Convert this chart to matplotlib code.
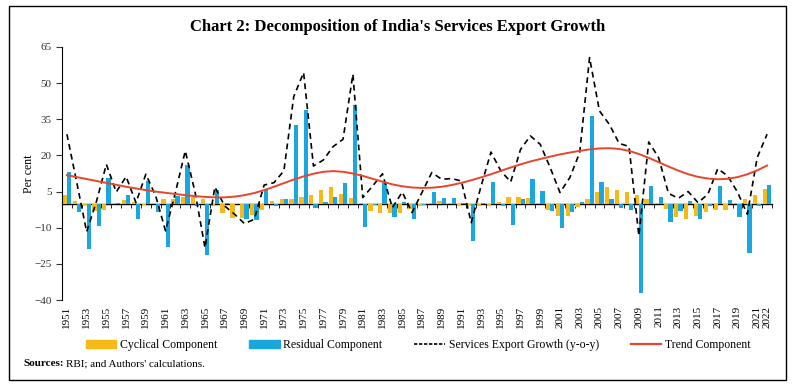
import numpy as np
import matplotlib.pyplot as plt
from matplotlib.patches import Rectangle, Patch
from matplotlib.lines import Line2D

plt.rcParams['font.family'] = ['Liberation Serif', 'DejaVu Serif']

# Data (per cent)
years = list(range(1951, 2023))

cyclical = [3.6, 1.0, -0.5, -3.0, -2.6, 0.2, 1.4, 0.7, -0.7, 0.2,
            1.8, 2.1, 2.9, 2.8, 1.8, -1.0, -4.0, -5.8, -6.1, -4.7,
            -2.6, 1.0, 2.1, 2.1, 2.9, 3.7, 5.5, 7.0, 4.1, 2.2,
            0.2, -3.0, -3.7, -3.7, -4.0, -2.4, -1.0, 0.4, 1.2, 0.2,
            -0.5, -0.5, -1.0, -1.0, 0.8, 2.6, 2.9, 2.2, 0.2, -2.6,
            -5.1, -5.1, -1.4, 2.1, 4.8, 6.9, 5.7, 5.0, 3.7, 1.8,
            0.3, -2.4, -5.5, -6.5, -5.1, -3.5, -2.8, -2.6, 0.2, 1.8,
            3.7, 5.9]

residual = [13.3, -3.5, -19.0, -9.3, 10.8, 0.2, 3.6, -6.5, 9.4, -3.5,
            -17.8, 3.2, 15.9, -1.0, -21.4, 5.7, 0.2, -0.3, -6.5, -6.9,
            5.7, -1.0, 1.8, 32.5, 38.9, -2.0, 0.7, 2.8, 8.7, 40.8,
            -9.5, -0.5, 8.7, -5.4, 0.7, -6.5, -0.5, 4.8, 2.5, 2.2,
            0.2, -15.5, 0.2, 9.1, -1.0, -8.9, 1.8, 10.1, 5.3, -3.0,
            -10.0, -3.5, 0.8, 36.5, 9.1, 1.8, -2.0, -2.6, -37.2, 7.2,
            2.9, -7.6, -3.0, 1.1, -6.2, -1.0, 7.3, 1.4, -5.4, -20.3,
            -1.0, 7.7]

growth = [28.8, 8.7, -11.7, 1.0, 16.3, 4.8, 11.2, 0.4, 12.2, 3.2,
          -11.3, 4.6, 21.9, 4.6, -18.3, 6.9, -1.0, -4.4, -8.3, -6.5,
          7.7, 8.7, 13.6, 44.4, 54.4, 15.6, 18.1, 23.7, 26.7, 53.7,
          2.5, 7.3, 12.4, -1.7, 4.8, -3.7, 4.6, 12.9, 10.1, 10.4,
          9.4, -7.9, 7.3, 21.4, 13.6, 9.0, 22.5, 28.1, 24.6, 15.0,
          4.6, 10.8, 21.2, 60.6, 38.5, 32.9, 25.0, 23.7, -13.4, 25.6,
          19.1, 4.3, 2.2, 5.0, 0.4, 3.9, 14.5, 11.5, 4.8, -4.4,
          19.1, 28.8]

trend = [11.8, 11.0, 10.2, 9.4, 8.6, 7.8, 7.0, 6.3, 5.6, 5.0,
         4.5, 4.0, 3.5, 3.1, 2.8, 2.6, 2.6, 2.9, 3.5, 4.4,
         5.6, 7.0, 8.5, 10.0, 11.3, 12.4, 13.2, 13.5, 13.2, 12.5,
         11.5, 10.3, 9.1, 8.0, 7.2, 6.7, 6.5, 6.6, 7.0, 7.7,
         8.6, 9.7, 10.9, 12.2, 13.6, 15.0, 16.3, 17.5, 18.5, 19.5,
         20.4, 21.2, 21.9, 22.5, 22.9, 23.0, 22.7, 21.9, 20.6, 19.0,
         17.2, 15.4, 13.7, 12.2, 11.1, 10.4, 10.1, 10.3, 11.0, 12.2,
         13.8, 15.8]

yticks = [-40, -25, -10, 5, 20, 35, 50, 65]

c_cyc = '#F7B918'
c_res = '#1AA7DD'
c_trend = '#E8452C'

fig = plt.figure(figsize=(7.96, 3.92), dpi=100)
ax = fig.add_axes([62/796, 1 - 300/392, 710/796, 253/392])

x = np.arange(len(years))
w = 0.43
ax.bar(x - w/2, cyclical, width=w, color=c_cyc, zorder=2)
ax.bar(x + w/2, residual, width=w, color=c_res, zorder=2)
ax.plot(x, growth, color='black', lw=1.2, ls=(0, (3.5, 2.5)), zorder=3)
ax.plot(x, trend, color=c_trend, lw=1.4, zorder=4)

ax.set_xlim(-0.5, len(years) - 0.5)
ax.set_ylim(-40, 65)
ax.set_yticks(yticks)
ax.tick_params(axis='y', labelsize=8, length=4, width=0.8, colors='#333333')
ax.set_ylabel('Per cent', fontsize=8.5)
ax.yaxis.set_label_coords(-27/710, 0.5)

# year labels: odd years plus the last one
lab_idx = [i for i, y in enumerate(years) if y % 2 == 1] + [len(years) - 1]
ax.set_xticks(lab_idx)
ax.set_xticklabels([str(years[i]) for i in lab_idx], rotation=90, fontsize=8)
ax.tick_params(axis='x', length=0, pad=4)

for s in ['top', 'right', 'bottom']:
    ax.spines[s].set_visible(False)
ax.spines['left'].set_linewidth(0.8)

# zero line with small category ticks
zero = ax.secondary_xaxis(40/105)
zero.set_xticks(np.arange(-0.5, len(years), 1))
zero.set_xticklabels([])
zero.tick_params(length=3, width=0.6, direction='out')
zero.spines['bottom'].set_linewidth(1.0)

fig.text(0.5, 1 - 27/392, "Chart 2: Decomposition of India's Services Export Growth",
         ha='center', va='center', fontsize=12, fontweight='bold')

handles = [Patch(color=c_cyc), Patch(color=c_res),
           Line2D([], [], color='black', lw=1.2, ls=(0, (2, 1))),
           Line2D([], [], color=c_trend, lw=1.6)]
labels = ['Cyclical Component', 'Residual Component',
          'Services Export Growth (y-o-y)', 'Trend Component']
fig.legend(handles, labels, loc='center', bbox_to_anchor=(418/796, 1 - 345/392),
           ncol=4, frameon=False, fontsize=8.5, handlelength=2.6, handleheight=0.6,
           columnspacing=2.7, handletextpad=0.3)

src = fig.text(23/796, 1 - 364/392, 'Sources:', fontsize=8, fontweight='bold', va='center')
fig.canvas.draw()
bb = src.get_window_extent()
fig.text((bb.x1 + 2)/796, 1 - 364/392, "RBI; and Authors' calculations.", fontsize=8, va='center')

fig.patches.append(Rectangle((9/796, 1 - 380/392), 777/796, 374/392,
                             transform=fig.transFigure, fill=False,
                             edgecolor='black', lw=1.0))

fig.savefig('out.png', dpi=100)
